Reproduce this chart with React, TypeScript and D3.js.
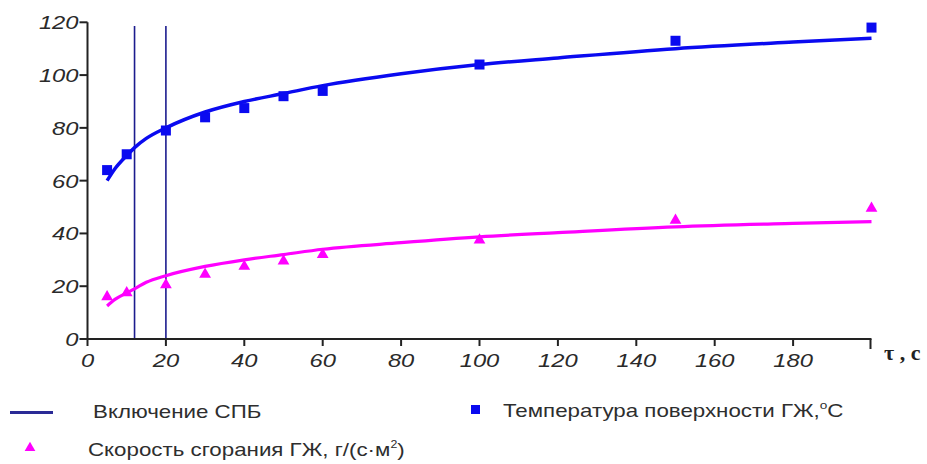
import React from 'react';
import * as d3 from 'd3';

// measured points
const times = [5, 10, 20, 30, 40, 50, 60, 100, 150, 200];
const tempValues = [64, 70, 79, 84, 87.5, 92, 94, 104, 113, 118];
const rateValues = [16, 17.5, 20.5, 24.5, 27.5, 29.5, 32, 37.5, 45, 49.5];

// fitted trend lines
const trendTimes = [5, 7, 10, 12, 15, 20, 30, 40, 50, 60, 80, 100, 120, 150, 180, 200];
const tempTrend = [60, 64.5, 69.5, 72.5, 76, 80, 86, 90, 93, 96, 100.5, 104, 106.5, 110, 112.5, 114];
const rateTrend = [12.5, 15, 17.5, 19, 21.5, 24, 27.5, 30, 32, 34, 36.5, 38.7, 40.3, 42.5, 43.8, 44.5];

// moments the SPB is switched on
const switchTimes = [12, 20];

const xTicks = [0, 20, 40, 60, 80, 100, 120, 140, 160, 180];
const yTicks = [0, 20, 40, 60, 80, 100, 120];

const W = 927;
const H = 464;

export default function App() {
  const x = d3.scaleLinear().domain([0, 200]).range([87.5, 871.5]);
  const y = d3.scaleLinear().domain([0, 120]).range([339, 22.3]);

  const line = d3.line<number>()
    .x((_, i) => x(trendTimes[i]))
    .curve(d3.curveMonotoneX);

  const tempPath = line.y((d) => y(d))(tempTrend) as string;
  const ratePath = line.y((d) => y(d))(rateTrend) as string;

  const tri = d3.symbol().type(d3.symbolTriangle).size(60)() as string;

  const tickFont = { fontFamily: 'Liberation Sans, Arial, sans-serif', fontStyle: 'italic', fontSize: 19, fill: '#2a2a2a' };
  const legendFont = { fontFamily: 'Liberation Sans, Arial, sans-serif', fontSize: 18, fill: '#2e2e2e' };

  return (
    <svg width={W} height={H} style={{ position: 'absolute', left: 0, top: 0, background: '#fff' }}>
      {/* switch-on lines */}
      {switchTimes.map((t) => (
        <line key={t} x1={x(t)} x2={x(t)} y1={26} y2={y(0)} stroke="#1c1c8e" strokeWidth={1.6} />
      ))}

      {/* axes */}
      <line x1={x(0)} x2={x(0)} y1={y(120)} y2={y(0)} stroke="#222" strokeWidth={2} />
      <line x1={x(0)} x2={x(200)} y1={y(0)} y2={y(0)} stroke="#222" strokeWidth={2} />
      {yTicks.map((v) => (
        <g key={'y' + v}>
          <line x1={x(0) - 8} x2={x(0)} y1={y(v)} y2={y(v)} stroke="#222" strokeWidth={2} />
          <text transform={`translate(${x(0) - 9},${y(v) + 7}) scale(1.25,1)`} textAnchor="end" {...tickFont}>{v}</text>
        </g>
      ))}
      {xTicks.map((v) => (
        <g key={'x' + v}>
          <line x1={x(v)} x2={x(v)} y1={y(0)} y2={y(0) + 7} stroke="#222" strokeWidth={2} />
          <text transform={`translate(${x(v)},${367}) scale(1.25,1)`} textAnchor="middle" {...tickFont}>{v}</text>
        </g>
      ))}
      <line x1={x(200) - 1} x2={x(200) - 1} y1={y(0)} y2={y(0) + 10} stroke="#222" strokeWidth={2} />
      <text x={884} y={360} fontFamily="Liberation Serif, Times New Roman, serif" fontWeight="bold" fontSize={22} fill="#222">τ , с</text>

      {/* trend lines */}
      <path d={tempPath} fill="none" stroke="#0a0af0" strokeWidth={3.5} />
      <path d={ratePath} fill="none" stroke="#ff00ff" strokeWidth={3.2} />

      {/* markers */}
      {times.map((t, i) => (
        <rect key={'s' + t} x={x(t) - 5} y={y(tempValues[i]) - 5} width={10} height={10} fill="#0a0af0" />
      ))}
      {times.map((t, i) => (
        <path key={'t' + t} d={tri} transform={`translate(${x(t)},${y(rateValues[i])})`} fill="#ff00ff" />
      ))}

      {/* legend */}
      <line x1={10} x2={53} y1={412.5} y2={412.5} stroke="#2a2a96" strokeWidth={3} />
      <text transform="translate(93,418) scale(1.24,1)" {...legendFont}>Включение СПБ</text>

      <rect x={471} y={405} width={9} height={9} fill="#0a0af0" />
      <text transform="translate(503,417) scale(1.24,1)" {...legendFont}>
        Температура поверхности ГЖ,<tspan fontSize={11} dy={-8}>o</tspan><tspan dy={8}>С</tspan>
      </text>

      <path d={d3.symbol().type(d3.symbolTriangle).size(50)() as string} transform="translate(30,448)" fill="#ff00ff" />
      <text transform="translate(88,456) scale(1.24,1)" {...legendFont}>
        Скорость сгорания ГЖ, г/(с·м<tspan fontSize={10} dy={-8}>2</tspan><tspan dy={8}>)</tspan>
      </text>
    </svg>
  );
}
